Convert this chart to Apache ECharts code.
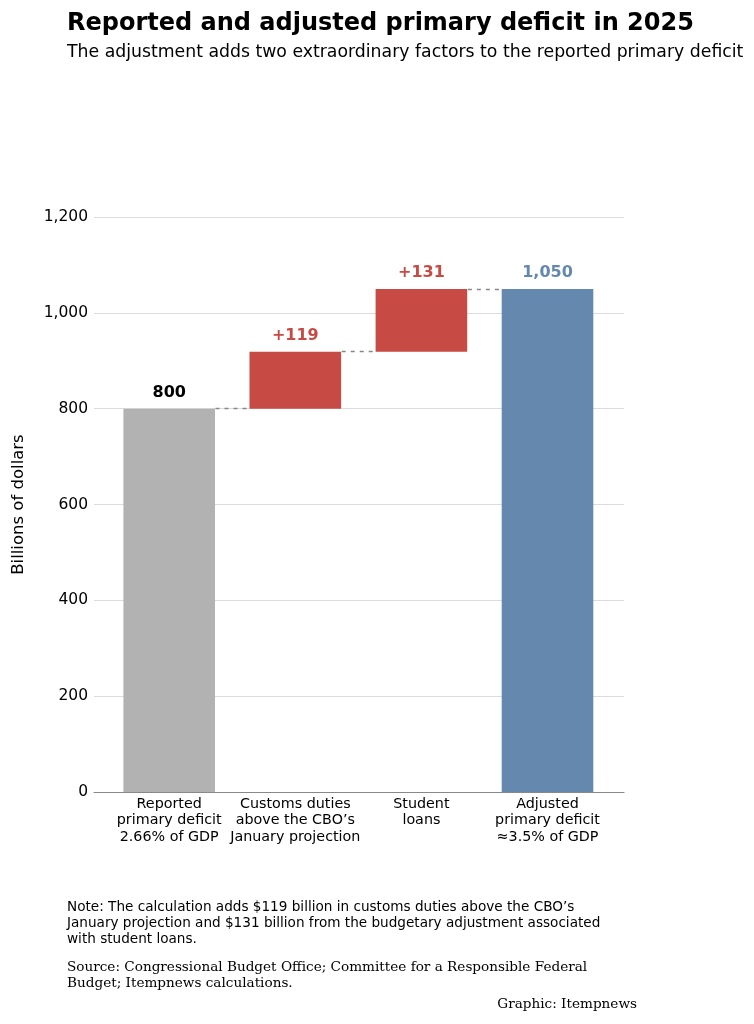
<!DOCTYPE html>
<html>
<head>
    <meta charset="utf-8">
    <title>Primary deficit 2025</title>
    <script src="https://cdn.jsdelivr.net/npm/echarts@6/dist/echarts.min.js"></script>
    <style>
        html, body { margin: 0; padding: 0; background: #fff; }
    </style>
</head>
<body>
    <div id="chart" style="width: 754px; height: 1024px;"></div>

    <script type="text/javascript">
        // data
        var categories = [
            'Reported\nprimary deficit\n2.66% of GDP',
            'Customs duties\nabove the CBO\u2019s\nJanuary projection',
            'Student\nloans',
            'Adjusted\nprimary deficit\n\u22483.5% of GDP'
        ];
        var baseValues = [0, 800, 919, 0];
        var barValues = [800, 119, 131, 1050];
        var barLabels = ['800', '+119', '+131', '1,050'];

        var barColors = ['#b2b2b2', '#c84a45', '#c84a45', '#6488ae'];
        var labelColors = ['#000000', '#c84a45', '#c84a45', '#6488ae'];
        var FONT = 'DejaVu Sans';
        var halfBar = 0.363; // bar half width in x units of the background grid

        var chart = echarts.init(document.getElementById('chart'));

        // dashed connectors between neighbouring bars
        var connectors = [];
        for (var i = 0; i < barValues.length - 1; i++) {
            var barTop = baseValues[i] + barValues[i];
            connectors.push([
                { coord: [i + halfBar, barTop] },
                { coord: [i + 1 - halfBar, barTop] }
            ]);
        }

        chart.setOption({
            animation: false,
            title: {
                text: 'Reported and adjusted primary deficit in 2025',
                subtext: 'The adjustment adds two extraordinary factors to the reported primary deficit',
                left: 67,
                top: 12,
                padding: 0,
                itemGap: 8,
                textStyle: { fontFamily: FONT, fontSize: 24, fontWeight: 'bold', color: '#000' },
                subtextStyle: { fontFamily: FONT, fontSize: 17.3, color: '#000' }
            },
            grid: [
                // bars
                { left: 106.15, right: 143.45, top: 217, bottom: 232 },
                // background: gridlines, y labels, baseline, connectors
                { left: 94, right: 130, top: 217, bottom: 232 }
            ],
            xAxis: [
                {
                    type: 'category',
                    gridIndex: 0,
                    data: categories,
                    axisLine: { show: false },
                    axisTick: { show: false },
                    axisLabel: {
                        fontFamily: FONT,
                        fontSize: 14.3,
                        lineHeight: 16.5,
                        color: '#000',
                        margin: 4,
                        interval: 0
                    }
                },
                {
                    type: 'value',
                    gridIndex: 1,
                    min: -0.6,
                    max: 3.6,
                    splitLine: { show: false },
                    axisTick: { show: false },
                    axisLabel: { show: false },
                    axisLine: { show: true, lineStyle: { color: '#888', width: 1.2 } }
                }
            ],
            yAxis: [
                {
                    type: 'value',
                    gridIndex: 0,
                    min: 0,
                    max: 1200,
                    show: false
                },
                {
                    type: 'value',
                    gridIndex: 1,
                    min: 0,
                    max: 1200,
                    interval: 200,
                    name: 'Billions of dollars',
                    nameLocation: 'middle',
                    nameGap: 67,
                    nameTextStyle: { fontFamily: FONT, fontSize: 16.5, color: '#000' },
                    axisLine: { show: false },
                    axisTick: { show: false },
                    splitLine: { lineStyle: { color: '#dcdcdc', width: 1 } },
                    axisLabel: {
                        fontFamily: FONT,
                        fontSize: 15.5,
                        color: '#000',
                        margin: 6,
                        formatter: function (v) { return v.toLocaleString('en-US'); }
                    }
                }
            ],
            series: [
                {
                    name: 'base',
                    type: 'bar',
                    xAxisIndex: 0,
                    yAxisIndex: 0,
                    stack: 'w',
                    barWidth: 91.6,
                    silent: true,
                    itemStyle: { color: 'transparent' },
                    data: baseValues
                },
                {
                    name: 'value',
                    type: 'bar',
                    xAxisIndex: 0,
                    yAxisIndex: 0,
                    stack: 'w',
                    barWidth: 91.6,
                    data: barValues.map(function (v, i) {
                        return {
                            value: v,
                            itemStyle: { color: barColors[i] },
                            label: { color: labelColors[i] }
                        };
                    }),
                    label: {
                        show: true,
                        position: 'top',
                        distance: 8,
                        fontFamily: FONT,
                        fontSize: 16,
                        fontWeight: 'bold',
                        formatter: function (p) { return barLabels[p.dataIndex]; }
                    }
                },
                {
                    name: 'connectors',
                    type: 'line',
                    xAxisIndex: 1,
                    yAxisIndex: 1,
                    data: [],
                    markLine: {
                        symbol: ['none', 'none'],
                        silent: true,
                        label: { show: false },
                        lineStyle: { color: '#888', type: [4, 5], width: 1.3 },
                        data: connectors
                    }
                }
            ],
            graphic: [
                {
                    type: 'text',
                    left: 67,
                    top: 900,
                    style: {
                        text: 'Note: The calculation adds $119 billion in customs duties above the CBO\u2019s\nJanuary projection and $131 billion from the budgetary adjustment associated\nwith student loans.',
                        font: '13.6px "DejaVu Sans"',
                        lineHeight: 15.7,
                        fill: '#000'
                    }
                },
                {
                    type: 'text',
                    left: 67,
                    top: 959,
                    style: {
                        text: 'Source: Congressional Budget Office; Committee for a Responsible Federal\nBudget; Itempnews calculations.',
                        font: '13.6px "DejaVu Serif"',
                        lineHeight: 16,
                        fill: '#000'
                    }
                },
                {
                    type: 'text',
                    right: 117,
                    top: 997,
                    style: {
                        text: 'Graphic: Itempnews',
                        font: '13.6px "DejaVu Serif"',
                        lineHeight: 15.7,
                        fill: '#000'
                    }
                }
            ]
        });
    </script>
</body>
</html>
